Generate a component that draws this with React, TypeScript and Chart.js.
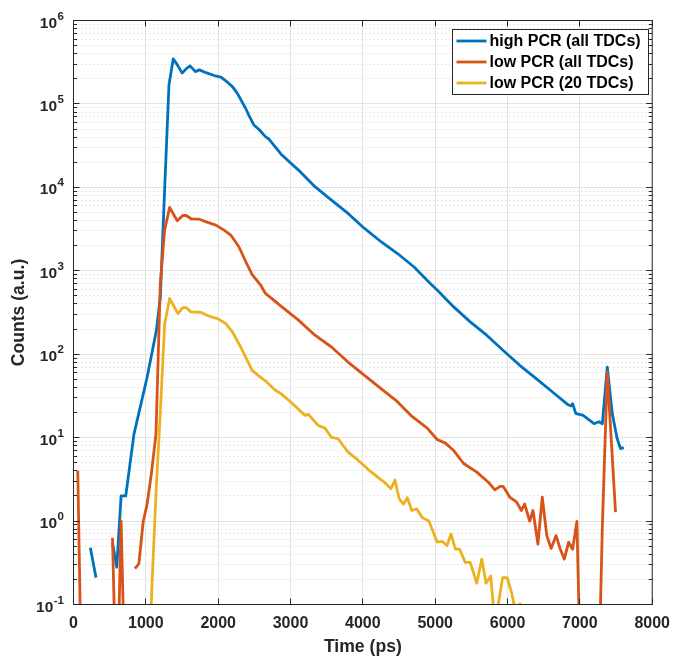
import React, { useEffect, useRef } from 'react';
import { Chart, registerables } from 'chart.js';

Chart.register(...registerables);

// ---------- data ----------
const seriesLabels = ['high PCR (all TDCs)', 'low PCR (all TDCs)', 'low PCR (20 TDCs)'];
const seriesColors = ['#0072BD', '#D95319', '#EDB120'];

const highTime = [233, 311, 370, 539, 598, 658, 722, 836, 1018, 1078, 1146, 1200, 1260, 1320, 1379, 1440, 1502, 1560, 1612, 1685, 1740, 1831, 1945, 2037, 2128, 2200, 2265, 2379, 2425, 2493, 2562, 2653, 2699, 2881, 3110, 3338, 3566, 3795, 4023, 4251, 4479, 4708, 4936, 5027, 5256, 5484, 5712, 5941, 6169, 6397, 6626, 6830, 6877, 6900, 6945, 7040, 7100, 7196, 7265, 7311, 7379, 7448, 7516, 7562, 7607];
const highCounts = [0.48, 0.21, null, 0.55, 0.28, 2.0, 2.0, 11, 53, 97, 193, 480, 9500, 170000, 347000, 290000, 234000, 265000, 286000, 244000, 256000, 237000, 219000, 209000, 182000, 160000, 134000, 88700, 73000, 56000, 49700, 40500, 38000, 24400, 16100, 10200, 7040, 4870, 3220, 2230, 1610, 1110, 700, 590, 369, 244, 169, 111, 73.6, 51, 35, 25, 24, 25.5, 19.4, 18.6, 17, 14.7, 15.5, 14.7, 70, 19.4, 9.7, 7.4, 7.6];

const lowAllTime = [59, 118, 180, 539, 598, 658, 722, 782, 849, 904, 963, 1018, 1078, 1140, 1200, 1260, 1329, 1380, 1434, 1511, 1557, 1626, 1740, 1854, 1968, 2082, 2174, 2288, 2379, 2470, 2584, 2653, 2881, 3110, 3338, 3566, 3795, 4023, 4251, 4457, 4662, 4890, 5027, 5141, 5256, 5393, 5575, 5735, 5826, 5895, 5941, 6032, 6123, 6192, 6237, 6306, 6352, 6420, 6480, 6543, 6603, 6671, 6726, 6785, 6845, 6900, 6959, 7020, 7080, 7250, 7311, 7379, 7493];
const lowAllCounts = [4.0, 0.005, null, 0.63, 0.005, 1.0, 0.005, null, 0.27, 0.31, 0.98, 1.6, 3.8, 11, 700, 3070, 5750, 4800, 3970, 4600, 4600, 4200, 4150, 3800, 3530, 3070, 2680, 1930, 1300, 900, 680, 535, 369, 256, 169, 122, 80.5, 55.9, 38.7, 28, 18.5, 13, 9.5, 8.6, 7.0, 4.9, 3.86, 2.92, 2.37, 2.6, 2.6, 1.93, 1.7, 1.34, 1.6, 1.0, 1.34, 0.53, 1.93, 0.67, 0.47, 0.67, 0.47, 0.35, 0.56, 0.46, 0.99, 0.005, null, 0.005, 0.87, 61, 1.28];

const low20Time = [1030, 1090, 1146, 1200, 1260, 1329, 1443, 1511, 1557, 1626, 1763, 1877, 1991, 2105, 2196, 2311, 2402, 2470, 2560, 2653, 2790, 2881, 3018, 3201, 3247, 3384, 3475, 3566, 3658, 3795, 3932, 4068, 4205, 4297, 4388, 4443, 4503, 4562, 4616, 4676, 4744, 4822, 4913, 5027, 5096, 5164, 5219, 5279, 5338, 5415, 5484, 5575, 5644, 5703, 5767, 5827, 5932, 5995, 6055, 6114, 6178];
const low20Counts = [0.01, 0.22, 2.7, 20, 230, 465, 307, 362, 362, 321, 317, 285, 267, 233, 185, 122, 84.5, 64, 55, 48, 37, 33, 26, 18.5, 19, 14, 13, 10.1, 9.7, 6.7, 5.4, 4.2, 3.36, 2.92, 2.44, 3.1, 1.85, 1.6, 1.9, 1.34, 1.4, 1.1, 1.0, 0.56, 0.57, 0.51, 0.70, 0.46, 0.46, 0.32, 0.32, 0.18, 0.35, 0.18, 0.22, 0.057, 0.21, 0.21, 0.14, 0.08, 0.105];

const xTickValues = [0, 1000, 2000, 3000, 4000, 5000, 6000, 7000, 8000];
const yDecadeExponents = [-1, 0, 1, 2, 3, 4, 5, 6];

const seriesTimes = [highTime, lowAllTime, low20Time];
const seriesCounts = [highCounts, lowAllCounts, low20Counts];

const FONT = '"Liberation Sans", Arial, Helvetica, sans-serif';
const AXIS_COLOR = '#262626';

function toPoints(t: number[], c: (number | null)[]) {
  return t.map((x, i) => ({ x, y: c[i] }));
}

const matlabAxes = {
  id: 'matlabAxes',
  beforeDatasetsDraw(chart: any) {
    const { ctx, chartArea: a, scales } = chart;
    const x = scales.x;
    const y = scales.y;
    ctx.save();
    // minor dotted grid (y)
    ctx.lineWidth = 1;
    ctx.strokeStyle = 'rgba(38,38,38,0.22)';
    ctx.setLineDash([1, 3]);
    for (let e = yDecadeExponents[0]; e < yDecadeExponents[yDecadeExponents.length - 1]; e++) {
      for (let k = 2; k <= 9; k++) {
        const py = Math.floor(y.getPixelForValue(k * Math.pow(10, e))) + 0.5;
        ctx.beginPath();
        ctx.moveTo(a.left, py);
        ctx.lineTo(a.right, py);
        ctx.stroke();
      }
    }
    ctx.setLineDash([]);
    ctx.strokeStyle = '#e2e2e2';
    for (const v of xTickValues) {
      const px = Math.floor(x.getPixelForValue(v)) + 0.5;
      ctx.beginPath();
      ctx.moveTo(px, a.top);
      ctx.lineTo(px, a.bottom);
      ctx.stroke();
    }
    for (const e of yDecadeExponents) {
      const py = Math.floor(y.getPixelForValue(Math.pow(10, e))) + 0.5;
      ctx.beginPath();
      ctx.moveTo(a.left, py);
      ctx.lineTo(a.right, py);
      ctx.stroke();
    }
    ctx.restore();
  },
  afterDatasetsDraw(chart: any) {
    const { ctx, chartArea: a, scales } = chart;
    const x = scales.x;
    const y = scales.y;
    ctx.save();
    ctx.strokeStyle = AXIS_COLOR;
    ctx.lineWidth = 1;
    ctx.strokeRect(a.left, a.top, a.right - a.left, a.bottom - a.top);
    const majorLen = 6;
    const minorLen = 3.5;
    ctx.beginPath();
    for (const v of xTickValues) {
      const px = Math.floor(x.getPixelForValue(v)) + 0.5;
      ctx.moveTo(px, a.bottom);
      ctx.lineTo(px, a.bottom - majorLen);
      ctx.moveTo(px, a.top);
      ctx.lineTo(px, a.top + majorLen);
    }
    for (const e of yDecadeExponents) {
      const py = Math.floor(y.getPixelForValue(Math.pow(10, e))) + 0.5;
      ctx.moveTo(a.left, py);
      ctx.lineTo(a.left + majorLen, py);
      ctx.moveTo(a.right, py);
      ctx.lineTo(a.right - majorLen, py);
      if (e < yDecadeExponents[yDecadeExponents.length - 1]) {
        for (let k = 2; k <= 9; k++) {
          const pm = Math.floor(y.getPixelForValue(k * Math.pow(10, e))) + 0.5;
          ctx.moveTo(a.left, pm);
          ctx.lineTo(a.left + minorLen, pm);
          ctx.moveTo(a.right, pm);
          ctx.lineTo(a.right - minorLen, pm);
        }
      }
    }
    ctx.stroke();

    // y tick labels with superscript exponents
    ctx.fillStyle = AXIS_COLOR;
    ctx.textBaseline = 'alphabetic';
    ctx.textAlign = 'left';
    const baseFont = `bold 15.5px ${FONT}`;
    const expFont = `bold 11.5px ${FONT}`;
    const rightEdge = 64;
    for (const e of yDecadeExponents) {
      const py = y.getPixelForValue(Math.pow(10, e));
      const expText = String(e);
      ctx.font = baseFont;
      const wBase = ctx.measureText('10').width;
      ctx.font = expFont;
      const wExp = ctx.measureText(expText).width;
      const start = rightEdge - wBase - wExp - 0.5;
      ctx.font = baseFont;
      ctx.fillText('10', start, py + 7);
      ctx.font = expFont;
      ctx.fillText(expText, start + wBase + 0.5, py - 1);
    }

    // legend
    const lx = 452.5, ly = 29.5, lw = 196, lh = 65;
    ctx.fillStyle = '#ffffff';
    ctx.fillRect(lx, ly, lw, lh);
    ctx.strokeStyle = AXIS_COLOR;
    ctx.lineWidth = 1;
    ctx.strokeRect(lx, ly, lw, lh);
    const rows = [41, 62, 83];
    ctx.font = `bold 16px ${FONT}`;
    ctx.textBaseline = 'middle';
    ctx.textAlign = 'left';
    seriesLabels.forEach((label, i) => {
      ctx.strokeStyle = seriesColors[i];
      ctx.lineWidth = 2.8;
      ctx.beginPath();
      ctx.moveTo(lx + 4, rows[i]);
      ctx.lineTo(lx + 34, rows[i]);
      ctx.stroke();
      ctx.fillStyle = '#000000';
      ctx.fillText(label, lx + 37, rows[i] + 1);
    });
    ctx.restore();
  },
};

export default function App() {
  const canvasRef = useRef<HTMLCanvasElement | null>(null);

  useEffect(() => {
    const canvas = canvasRef.current;
    if (!canvas) return;
    const datasets = seriesLabels.map((label, i) => ({
      label,
      data: toPoints(seriesTimes[i], seriesCounts[i]),
      borderColor: seriesColors[i],
      backgroundColor: seriesColors[i],
      borderWidth: 2.8,
      pointRadius: 0,
      tension: 0,
      spanGaps: false,
      borderJoinStyle: 'round' as const,
      borderCapStyle: 'butt' as const,
      clip: 0,
      order: seriesLabels.length - 1 - i,
    }));
    const chart = new Chart(canvas, {
      type: 'line',
      data: { datasets },
      options: {
        responsive: false,
        animation: false,
        events: [],
        layout: { padding: { top: 20.5, right: 21.5, left: 0, bottom: 0 } },
        plugins: {
          legend: { display: false },
          tooltip: { enabled: false },
        },
        scales: {
          x: {
            type: 'linear',
            min: 0,
            max: 8000,
            afterBuildTicks: (s: any) => {
              s.ticks = xTickValues.map((v) => ({ value: v }));
            },
            afterFit: (s: any) => {
              s.height = 53.5;
            },
            ticks: {
              autoSkip: false,
              maxRotation: 0,
              padding: 9,
              color: AXIS_COLOR,
              font: { family: FONT, size: 16, weight: 'bold' },
              callback: (v: any) => String(v),
            },
            grid: { display: false, drawTicks: false },
            border: { display: false },
            title: {
              display: true,
              text: 'Time (ps)',
              color: AXIS_COLOR,
              font: { family: FONT, size: 17.6, weight: 'bold' },
              padding: { top: 0, bottom: 0 },
            },
          },
          y: {
            type: 'logarithmic',
            min: 0.1,
            max: 1e6,
            afterFit: (s: any) => {
              s.width = 73.5;
            },
            ticks: { display: false },
            grid: { display: false, drawTicks: false },
            border: { display: false },
            title: {
              display: true,
              text: 'Counts (a.u.)',
              color: AXIS_COLOR,
              font: { family: FONT, size: 17.6, weight: 'bold' },
              padding: { top: 8.5, bottom: 0 },
            },
          },
        },
      } as any,
      plugins: [matlabAxes],
    });
    return () => chart.destroy();
  }, []);

  return (
    <div style={{ position: 'fixed', left: 0, top: 0, width: 679, height: 658, background: '#ffffff' }}>
      <canvas ref={canvasRef} width={679} height={658} style={{ display: 'block', width: 679, height: 658 }} />
    </div>
  );
}
